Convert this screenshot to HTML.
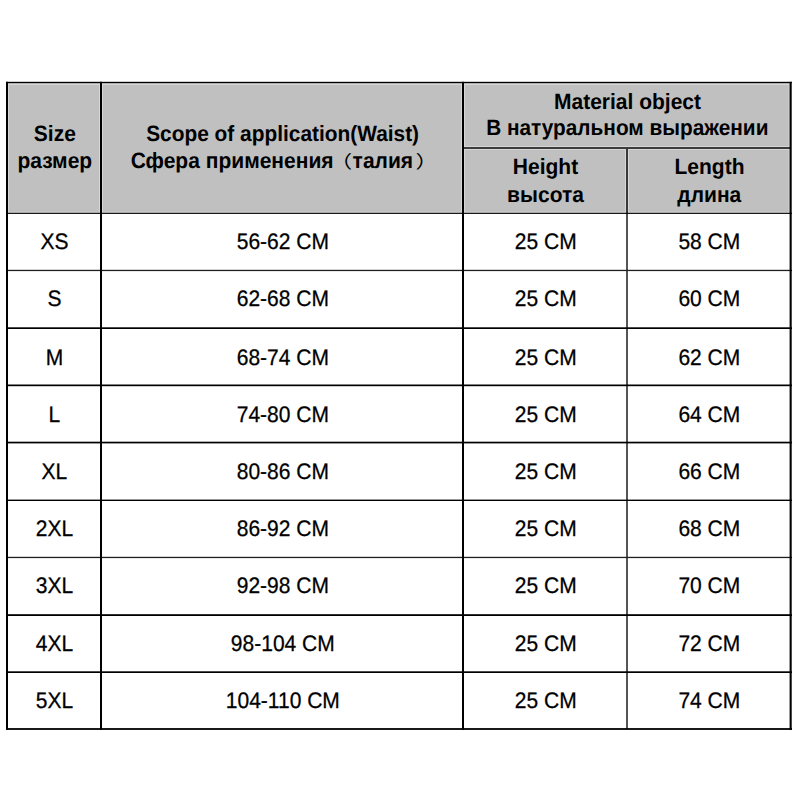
<!DOCTYPE html><html><head><meta charset="utf-8"><style>html,body{margin:0;padding:0;background:#fff;width:800px;height:800px;overflow:hidden}svg{display:block}text{font-family:"Liberation Sans","Noto Sans CJK SC",sans-serif;fill:#000;text-rendering:geometricPrecision}.b{font-weight:bold}.d{stroke:#000;stroke-width:0.25px}.p{font-family:"Noto Sans CJK SC","Liberation Sans",sans-serif;font-weight:normal}</style></head><body>
<svg width="800" height="800" viewBox="0 0 800 800">
<rect x="8" y="83" width="782" height="130" fill="#c0c0c0"/>
<rect x="8" y="84" width="92" height="1" fill="#d6d6d6"/>
<rect x="8" y="211.8" width="92" height="1" fill="#d6d6d6"/>
<rect x="8" y="84" width="1" height="128.8" fill="#d6d6d6"/>
<rect x="99" y="84" width="1" height="128.8" fill="#d6d6d6"/>
<rect x="102" y="84" width="360" height="1" fill="#d6d6d6"/>
<rect x="102" y="211.8" width="360" height="1" fill="#d6d6d6"/>
<rect x="102" y="84" width="1" height="128.8" fill="#d6d6d6"/>
<rect x="461" y="84" width="1" height="128.8" fill="#d6d6d6"/>
<rect x="464" y="84" width="325.6" height="1" fill="#d6d6d6"/>
<rect x="464" y="146" width="325.6" height="1" fill="#d6d6d6"/>
<rect x="464" y="84" width="1" height="63" fill="#d6d6d6"/>
<rect x="788.6" y="84" width="1" height="63" fill="#d6d6d6"/>
<rect x="464" y="149" width="162" height="1" fill="#d6d6d6"/>
<rect x="464" y="211.8" width="162" height="1" fill="#d6d6d6"/>
<rect x="464" y="149" width="1" height="63.80000000000001" fill="#d6d6d6"/>
<rect x="625" y="149" width="1" height="63.80000000000001" fill="#d6d6d6"/>
<rect x="628" y="149" width="161.60000000000002" height="1" fill="#d6d6d6"/>
<rect x="628" y="211.8" width="161.60000000000002" height="1" fill="#d6d6d6"/>
<rect x="628" y="149" width="1" height="63.80000000000001" fill="#d6d6d6"/>
<rect x="788.6" y="149" width="1" height="63.80000000000001" fill="#d6d6d6"/>
<rect x="626" y="147" width="2" height="66" fill="#383838"/>
<rect x="626" y="213" width="2" height="516" fill="#555"/>
<rect x="464" y="147" width="326" height="2" fill="#3c3c3c"/>
<rect x="6" y="81.8" width="786" height="1.3" fill="#000"/>
<rect x="6" y="212.8" width="786" height="1.1" fill="#000"/>
<rect x="6" y="269.8" width="786" height="1.3" fill="#1e1e1e"/>
<rect x="6" y="327.3" width="786" height="1.7" fill="#000"/>
<rect x="6" y="384.5" width="786" height="1.7" fill="#000"/>
<rect x="6" y="441.7" width="786" height="1.7" fill="#000"/>
<rect x="6" y="499.6" width="786" height="1.4" fill="#000"/>
<rect x="6" y="556.8" width="786" height="1.3" fill="#1e1e1e"/>
<rect x="6" y="614.2" width="786" height="1.8" fill="#000"/>
<rect x="6" y="671.3" width="786" height="1.7" fill="#000"/>
<rect x="6" y="728.1" width="786" height="1.8" fill="#000"/>
<rect x="6" y="81.8" width="2" height="648.1" fill="#000"/>
<rect x="789.6" y="81.8" width="2.1" height="648.1" fill="#000"/>
<rect x="100" y="81.8" width="2" height="648.1" fill="#000"/>
<rect x="462" y="81.8" width="2" height="648.1" fill="#000"/>
<text transform="translate(54.4 249.00) scale(1 1.07)" font-size="21" text-anchor="middle" class="d">XS</text>
<text transform="translate(282.8 249.00) scale(1 1.07)" font-size="21" text-anchor="middle" class="d">56-62 CM</text>
<text transform="translate(545.7 249.00) scale(1 1.07)" font-size="21" text-anchor="middle" class="d">25 CM</text>
<text transform="translate(709.3 249.00) scale(1 1.07)" font-size="21" text-anchor="middle" class="d">58 CM</text>
<text transform="translate(54.4 306.00) scale(1 1.07)" font-size="21" text-anchor="middle" class="d">S</text>
<text transform="translate(282.8 306.00) scale(1 1.07)" font-size="21" text-anchor="middle" class="d">62-68 CM</text>
<text transform="translate(545.7 306.00) scale(1 1.07)" font-size="21" text-anchor="middle" class="d">25 CM</text>
<text transform="translate(709.3 306.00) scale(1 1.07)" font-size="21" text-anchor="middle" class="d">60 CM</text>
<text transform="translate(54.4 365.00) scale(1 1.07)" font-size="21" text-anchor="middle" class="d">M</text>
<text transform="translate(282.8 365.00) scale(1 1.07)" font-size="21" text-anchor="middle" class="d">68-74 CM</text>
<text transform="translate(545.7 365.00) scale(1 1.07)" font-size="21" text-anchor="middle" class="d">25 CM</text>
<text transform="translate(709.3 365.00) scale(1 1.07)" font-size="21" text-anchor="middle" class="d">62 CM</text>
<text transform="translate(54.4 422.00) scale(1 1.07)" font-size="21" text-anchor="middle" class="d">L</text>
<text transform="translate(282.8 422.00) scale(1 1.07)" font-size="21" text-anchor="middle" class="d">74-80 CM</text>
<text transform="translate(545.7 422.00) scale(1 1.07)" font-size="21" text-anchor="middle" class="d">25 CM</text>
<text transform="translate(709.3 422.00) scale(1 1.07)" font-size="21" text-anchor="middle" class="d">64 CM</text>
<text transform="translate(54.4 479.00) scale(1 1.07)" font-size="21" text-anchor="middle" class="d">XL</text>
<text transform="translate(282.8 479.00) scale(1 1.07)" font-size="21" text-anchor="middle" class="d">80-86 CM</text>
<text transform="translate(545.7 479.00) scale(1 1.07)" font-size="21" text-anchor="middle" class="d">25 CM</text>
<text transform="translate(709.3 479.00) scale(1 1.07)" font-size="21" text-anchor="middle" class="d">66 CM</text>
<text transform="translate(54.4 536.00) scale(1 1.07)" font-size="21" text-anchor="middle" class="d">2XL</text>
<text transform="translate(282.8 536.00) scale(1 1.07)" font-size="21" text-anchor="middle" class="d">86-92 CM</text>
<text transform="translate(545.7 536.00) scale(1 1.07)" font-size="21" text-anchor="middle" class="d">25 CM</text>
<text transform="translate(709.3 536.00) scale(1 1.07)" font-size="21" text-anchor="middle" class="d">68 CM</text>
<text transform="translate(54.4 593.00) scale(1 1.07)" font-size="21" text-anchor="middle" class="d">3XL</text>
<text transform="translate(282.8 593.00) scale(1 1.07)" font-size="21" text-anchor="middle" class="d">92-98 CM</text>
<text transform="translate(545.7 593.00) scale(1 1.07)" font-size="21" text-anchor="middle" class="d">25 CM</text>
<text transform="translate(709.3 593.00) scale(1 1.07)" font-size="21" text-anchor="middle" class="d">70 CM</text>
<text transform="translate(54.4 651.00) scale(1 1.07)" font-size="21" text-anchor="middle" class="d">4XL</text>
<text transform="translate(282.8 651.00) scale(1 1.07)" font-size="21" text-anchor="middle" class="d">98-104 CM</text>
<text transform="translate(545.7 651.00) scale(1 1.07)" font-size="21" text-anchor="middle" class="d">25 CM</text>
<text transform="translate(709.3 651.00) scale(1 1.07)" font-size="21" text-anchor="middle" class="d">72 CM</text>
<text transform="translate(54.4 708.00) scale(1 1.07)" font-size="21" text-anchor="middle" class="d">5XL</text>
<text transform="translate(282.8 708.00) scale(1 1.07)" font-size="21" text-anchor="middle" class="d">104-110 CM</text>
<text transform="translate(545.7 708.00) scale(1 1.07)" font-size="21" text-anchor="middle" class="d">25 CM</text>
<text transform="translate(709.3 708.00) scale(1 1.07)" font-size="21" text-anchor="middle" class="d">74 CM</text>
<text class="b" transform="translate(54.8 141) scale(1 1.05)" font-size="21" text-anchor="middle">Size</text>
<text class="b" transform="translate(54.8 167.8) scale(1 1.05)" font-size="21" text-anchor="middle">размер</text>
<text class="b" transform="translate(282.6 140.5) scale(0.994 1.05)" font-size="21" text-anchor="middle">Scope of application(Waist)</text>
<text class="b" transform="translate(130.7 168) scale(1 1.05)" font-size="21">Сфера применения</text>
<text class="p" transform="translate(329.4 167.6) scale(1.08 0.84)" font-size="21">（</text>
<text class="b" transform="translate(352.6 168) scale(1 1.05)" font-size="21">талия</text>
<text class="p" transform="translate(415.4 167.8) scale(1.08 0.84)" font-size="21">）</text>
<text class="b" transform="translate(627.5 108.7) scale(1 1.05)" font-size="21" text-anchor="middle">Material object</text>
<text class="b" transform="translate(627.3 134.7) scale(0.99 1.05)" font-size="21" text-anchor="middle">В натуральном выражении</text>
<text class="b" transform="translate(545.5 174.4) scale(1 1.05)" font-size="21" text-anchor="middle">Height</text>
<text class="b" transform="translate(545.5 201.8) scale(1 1.05)" font-size="21" text-anchor="middle">высота</text>
<text class="b" transform="translate(709.5 174.4) scale(1 1.05)" font-size="21" text-anchor="middle">Length</text>
<text class="b" transform="translate(709.3 201.8) scale(1 1.05)" font-size="21" text-anchor="middle">длина</text>
</svg></body></html>
